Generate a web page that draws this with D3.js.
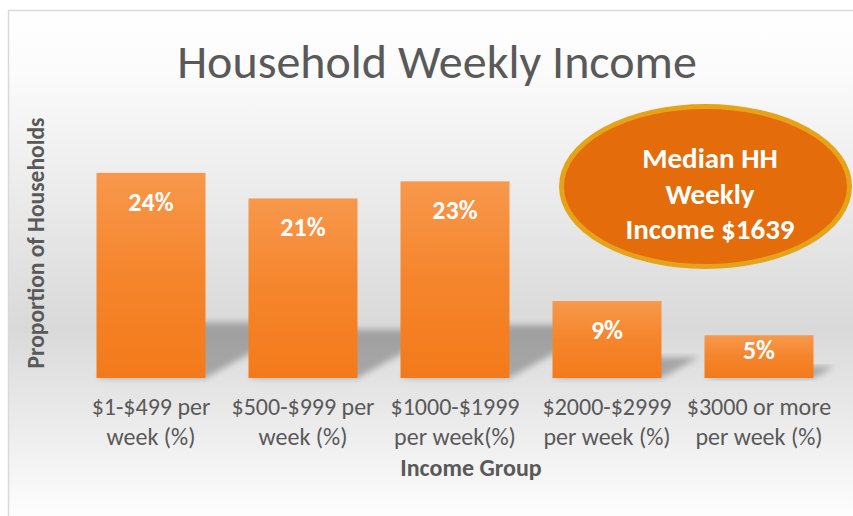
<!DOCTYPE html>
<html>
<head>
<meta charset="utf-8">
<script src="https://cdn.jsdelivr.net/npm/d3@7"></script>
<style>
  body { margin: 0; background: #fff; }
  svg { display: block; font-family: Carlito, Calibri, Lato, "Open Sans", sans-serif; }
</style>
</head>
<body>
<svg id="chart" width="853" height="516"></svg>
<script>
// Chart data
const categories = ['$1-$499 per week (%)', '$500-$999 per week (%)', '$1000-$1999 per week(%)', '$2000-$2999 per week (%)', '$3000 or more per week (%)'];
const categoryLines = [['$1-$499 per', 'week (%)'], ['$500-$999 per', 'week (%)'], ['$1000-$1999', 'per week(%)'], ['$2000-$2999', 'per week (%)'], ['$3000 or more', 'per week (%)']];
const values = [24, 21, 23, 9, 5];
const valueLabels = ['24%', '21%', '23%', '9%', '5%'];
const calloutLines = ['Median HH', 'Weekly', 'Income $1639'];
const yDomain = [0, 30];

const svg = d3.select('#chart');
const defs = svg.append('defs');

// Chart area background
const bg = defs.append('linearGradient')
  .attr('id', 'bg-grad')
  .attr('gradientUnits', 'userSpaceOnUse')
  .attr('x1', 0).attr('y1', 10).attr('x2', 0).attr('y2', 525);
bg.append('stop').attr('offset', 0).attr('stop-color', '#ffffff');
bg.append('stop').attr('offset', 0.12).attr('stop-color', '#fbfbfb');
bg.append('stop').attr('offset', 0.62).attr('stop-color', '#d9d9d9');
bg.append('stop').attr('offset', 1).attr('stop-color', '#ffffff');

const barGrad = defs.append('linearGradient')
  .attr('id', 'bar-grad')
  .attr('x1', 0).attr('y1', 0).attr('x2', 0).attr('y2', 1);
barGrad.append('stop').attr('offset', 0).attr('stop-color', '#f7984c');
barGrad.append('stop').attr('offset', 0.5).attr('stop-color', '#f5852c');
barGrad.append('stop').attr('offset', 1).attr('stop-color', '#f37a1a');

defs.append('filter')
  .attr('id', 'blur')
  .attr('x', '-20%').attr('y', '-20%').attr('width', '140%').attr('height', '140%')
  .append('feGaussianBlur')
  .attr('stdDeviation', 3);

svg.append('rect')
  .attr('x', 8.5).attr('y', 10.5)
  .attr('width', 870).attr('height', 530)
  .attr('fill', 'url(#bg-grad)')
  .attr('stroke', '#d9d9d9')
  .attr('stroke-width', 1.5);

// Scales
const x = d3.scaleBand()
  .domain(categories)
  .range([75, 835])
  .paddingInner(0.283)
  .paddingOuter(0.1415);

const y = d3.scaleLinear()
  .domain(yDomain)
  .range([378, 121.5]);

const base = y(0);

// Perspective shadows behind bars
const shadowK = 0.27;
const shadowT = 1.8;
svg.append('g')
  .selectAll('path')
  .data(values)
  .join('path')
  .attr('d', (d, i) => {
    const x0 = x(categories[i]);
    const x1 = x0 + x.bandwidth();
    const hs = (base - y(d)) * shadowK;
    return `M${x0},${base}L${x1},${base}L${x1 + hs * shadowT},${base - hs}L${x0 + hs * shadowT},${base - hs}Z`;
  })
  .attr('fill', '#000')
  .attr('opacity', 0.26)
  .attr('filter', 'url(#blur)');

// Bars
svg.append('g')
  .selectAll('rect')
  .data(values)
  .join('rect')
  .attr('x', (d, i) => x(categories[i]))
  .attr('y', (d) => y(d))
  .attr('width', x.bandwidth())
  .attr('height', (d) => base - y(d))
  .attr('fill', 'url(#bar-grad)');

// Value labels
svg.append('g')
  .selectAll('text')
  .data(values)
  .join('text')
  .attr('x', (d, i) => x(categories[i]) + x.bandwidth() / 2)
  .attr('y', (d) => y(d) + Math.min(38, (base - y(d)) * 0.55))
  .attr('text-anchor', 'middle')
  .attr('fill', '#ffffff')
  .attr('font-weight', 'bold')
  .attr('font-size', 26)
  .text((d, i) => valueLabels[i]);

// Category labels
const catLabel = svg.append('g')
  .selectAll('text')
  .data(categoryLines)
  .join('text')
  .attr('text-anchor', 'middle')
  .attr('fill', '#595959')
  .attr('font-size', 24);

catLabel.selectAll('tspan')
  .data((d, i) => d.map((line) => ({ line, i })))
  .join('tspan')
  .attr('x', (d) => x(categories[d.i]) + x.bandwidth() / 2)
  .attr('y', (d, j) => 415 + j * 30)
  .text((d) => d.line);

// Axis titles
svg.append('text')
  .attr('x', 471).attr('y', 476)
  .attr('text-anchor', 'middle')
  .attr('fill', '#595959')
  .attr('font-weight', 'bold')
  .attr('font-size', 24)
  .text('Income Group');

svg.append('text')
  .attr('transform', 'translate(44,243) rotate(-90)')
  .attr('text-anchor', 'middle')
  .attr('fill', '#595959')
  .attr('font-weight', 'bold')
  .attr('font-size', 23.5)
  .text('Proportion of Households');

// Title
svg.append('text')
  .attr('x', 437).attr('y', 78)
  .attr('text-anchor', 'middle')
  .attr('fill', '#595959')
  .attr('font-weight', 300)
  .attr('font-size', 48)
  .text('Household Weekly Income');

// Median callout
svg.append('ellipse')
  .attr('cx', 705.5).attr('cy', 186.5)
  .attr('rx', 144).attr('ry', 80)
  .attr('fill', '#e46c0a')
  .attr('stroke', '#e6a319')
  .attr('stroke-width', 5);

svg.append('g')
  .selectAll('text')
  .data(calloutLines)
  .join('text')
  .attr('x', 710)
  .attr('y', (d, i) => 168 + i * 35.5)
  .attr('text-anchor', 'middle')
  .attr('fill', '#ffffff')
  .attr('font-weight', 'bold')
  .attr('font-size', 29)
  .text((d) => d);
</script>
</body>
</html>
